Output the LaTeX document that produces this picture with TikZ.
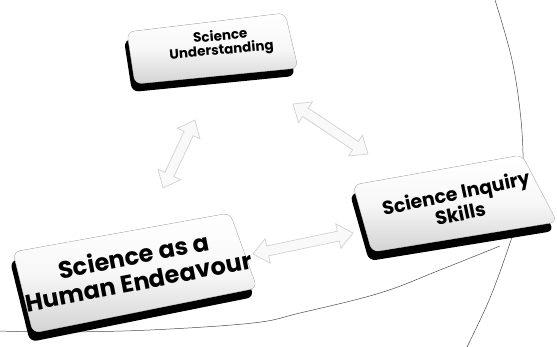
\documentclass[tikz,border=0pt]{standalone}
\usepackage{fontspec}
\newfontfamily\comic{Poppins}
\usetikzlibrary{calc}
\tikzset{
  boxshadow/.style={fill=black, rounded corners=7pt},
  boxface/.style={top color=white, bottom color=gray!35, middle color=white!97!black, draw=gray!40, line width=0.4pt, rounded corners=7pt},
  btext/.style={align=center, text=black, inner sep=0pt},
  thincurve/.style={draw=gray!60!black, line width=0.5pt},
  arrowshape/.style={fill=gray!5, draw=gray!35, line width=0.7pt, line join=miter},
}
\newcommand\dblarr[2]{%
  \filldraw[arrowshape] (#1)
   -- ($(#1)!15pt!(#2)!12.5pt!90:(#2)$)
   -- ($(#1)!15pt!(#2)!5pt!90:(#2)$)
   -- ($(#2)!15pt!(#1)!5pt!-90:(#1)$)
   -- ($(#2)!15pt!(#1)!12.5pt!-90:(#1)$)
   -- (#2)
   -- ($(#2)!15pt!(#1)!12.5pt!90:(#1)$)
   -- ($(#2)!15pt!(#1)!5pt!90:(#1)$)
   -- ($(#1)!15pt!(#2)!5pt!-90:(#2)$)
   -- ($(#1)!15pt!(#2)!12.5pt!-90:(#2)$)
   -- cycle;}
\begin{document}
\begin{tikzpicture}[x=1pt,y=1pt]
\useasboundingbox (0,0) rectangle (557,-347);
\fill[white] (0,0) rectangle (557,-347);
% thin curves
\draw[thincurve] plot[smooth, tension=0.6] coordinates {(495,0) (512,-60) (521,-120) (523,-175) (518,-215) (510,-243) (490,-298) (467,-347)};
\draw[thincurve] plot[smooth, tension=0.6] coordinates {(-2,-331) (60,-332) (150,-330) (253,-323) (300,-313) (380,-293) (440,-270) (500,-246)};
% top box
\begin{scope}[shift={(-3,-8)}]
\fill[boxshadow] (127,-32) -- (285,-13) -- (298,-68) -- (135,-84) -- cycle;
\end{scope}
\filldraw[boxface] (127,-32) -- (285,-13) -- (298,-68) -- (135,-84) -- cycle;
\node[btext, font=\comic\bfseries\fontsize{13.5}{14}\selectfont, rotate=5] (su) at (221,-44) {Science\\Understanding};
% right box
\begin{scope}[shift={(-3,-9)}]
\fill[boxshadow] (353,-185) -- (522,-155) -- (557,-222) -- (372,-252) -- cycle;
\end{scope}
\filldraw[boxface] (353,-185) -- (522,-155) -- (557,-222) -- (372,-252) -- cycle;
\node[btext, font=\comic\bfseries\fontsize{19}{21}\selectfont, rotate=12] (si) at (458,-203) {Science Inquiry\\Skills};
% left box
\begin{scope}[shift={(-3,-9)}]
\fill[boxshadow] (13,-252) -- (230,-213) -- (257,-288) -- (33,-333) -- cycle;
\end{scope}
\filldraw[boxface] (13,-252) -- (230,-213) -- (257,-288) -- (33,-333) -- cycle;
\node[btext, font=\comic\bfseries\fontsize{24}{26}\selectfont, rotate=11] (sh) at (136,-268) {Science as a\\Human Endeavour};
% arrows
\coordinate (a1s) at (163,-188);
\coordinate (a1e) at (195,-120);
\coordinate (a2s) at (293,-104);
\coordinate (a2e) at (368,-154);
\coordinate (a3s) at (253,-254);
\coordinate (a3e) at (353,-233);
\dblarr{a1s}{a1e}
\dblarr{a2s}{a2e}
\dblarr{a3s}{a3e}
\end{tikzpicture}
\end{document}
